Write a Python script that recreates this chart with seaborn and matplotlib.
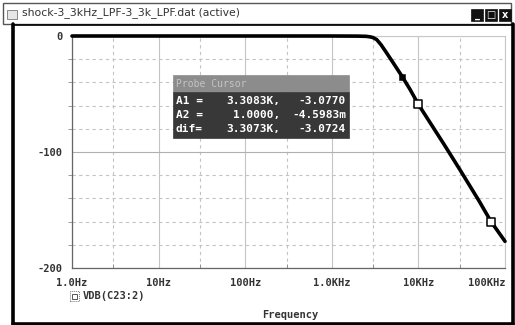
import matplotlib
matplotlib.use("Agg")
import matplotlib.pyplot as plt
import seaborn as sns
import pandas as pd
import numpy as np
from matplotlib.patches import Rectangle
from matplotlib.ticker import FixedLocator, NullFormatter

# ---- data ----
freq_hz = [1, 10, 100, 1000, 2000, 2500, 2800, 3000, 3300, 3700, 4200, 5000,
           6500, 8000, 10000, 20000, 30000, 50000, 69000, 100000]
vdb = [0, 0, 0, 0, -0.1, -0.3, -0.8, -1.4, -3.1, -7.5, -13.5, -22,
       -35, -46, -59, -94, -115, -142, -160, -177]

marker_filled_f = [6500]
marker_filled_db = [-35]
marker_open_f = [10000, 69000]
marker_open_db = [-59, -160]

x_tick_vals = [1, 10, 100, 1000, 10000, 100000]
x_tick_labels = ["1.0Hz", "10Hz", "100Hz", "1.0KHz", "10KHz", "100KHz"]
x_minor_vals = [3, 30, 300, 3000, 30000]
y_tick_vals = [0, -100, -200]
y_tick_labels = ["0", "-100", "-200"]
y_minor_vals = [-20, -40, -60, -80, -120, -140, -160, -180]

title_text = "shock-3_3kHz_LPF-3_3k_LPF.dat (active)"
trace_name = "VDB(C23:2)"
xlabel_text = "Frequency"
cursor_title = "Probe Cursor"
cursor_rows = [("A1 =", "3.3083K,", "-3.0770"),
               ("A2 =", "1.0000,", "-4.5983m"),
               ("dif=", "3.3073K,", "-3.0724")]

df = pd.DataFrame({"freq": freq_hz, "vdb": vdb})

sns.set_style("white")
plt.rcParams["font.family"] = ["DejaVu Sans Mono", "DejaVu Sans"]

W, H = 515, 325
fig = plt.figure(figsize=(W / 100, H / 100), dpi=100)
fig.patch.set_facecolor("white")

def fx(px):
    return px / W

def fy(py):
    return 1 - py / H

ax_l, ax_r, ax_t, ax_b = 72, 505, 36, 268
ax = fig.add_axes([fx(ax_l), fy(ax_b), fx(ax_r) - fx(ax_l), fy(ax_t) - fy(ax_b)])
ax.set_facecolor("white")

ax.set_xscale("log")
ax.set_xlim(1, 100000)
ax.set_ylim(-200, 0)

# grid
for v in x_tick_vals:
    ax.axvline(v, color="#c4c4c4", lw=0.8, zorder=0)
for v in x_minor_vals:
    ax.axvline(v, color="#c4c4c4", lw=0.8, ls=(0, (3, 3)), zorder=0)
for v in y_tick_vals:
    ax.axhline(v, color="#b0b0b0", lw=0.8, zorder=0)
for v in y_minor_vals:
    ax.axhline(v, color="#c4c4c4", lw=0.8, ls=(0, (3, 3)), zorder=0)

sns.lineplot(data=df, x="freq", y="vdb", ax=ax, color="black", lw=2.6,
             legend=False, zorder=3, clip_on=False)
sns.scatterplot(x=marker_filled_f, y=marker_filled_db, ax=ax, marker="s",
                s=22, color="black", edgecolor="black", zorder=4)
sns.scatterplot(x=marker_open_f, y=marker_open_db, ax=ax, marker="s",
                s=30, facecolor="white", edgecolor="black", linewidth=1.1,
                zorder=4)

for sp in ["top", "right"]:
    ax.spines[sp].set_visible(True)
    ax.spines[sp].set_color("#c8c8c8")
    ax.spines[sp].set_linewidth(0.8)
for sp in ["left", "bottom"]:
    ax.spines[sp].set_color("#666666")
    ax.spines[sp].set_linewidth(0.9)

ax.xaxis.set_major_locator(FixedLocator(x_tick_vals))
ax.xaxis.set_minor_locator(FixedLocator(x_minor_vals))
ax.xaxis.set_minor_formatter(NullFormatter())
ax.set_xticklabels(x_tick_labels)
ax.yaxis.set_major_locator(FixedLocator(y_tick_vals))
ax.yaxis.set_minor_locator(FixedLocator(y_minor_vals))
ax.set_yticklabels(y_tick_labels)
ax.tick_params(axis="both", which="major", length=4, width=0.8, color="#666666",
               labelsize=7.5, labelcolor="#333333", pad=3)
ax.tick_params(axis="y", which="minor", length=3, width=0.6, color="#888888", left=True)
ax.tick_params(axis="x", which="minor", length=3, width=0.6, color="#888888",
               bottom=True, direction="in")
ax.tick_params(axis="x", which="major", direction="out")
for lab in ax.get_xticklabels() + ax.get_yticklabels():
    lab.set_fontweight("bold")
last = ax.get_xticklabels()[-1]
last.set_horizontalalignment("right")
ax.set_xlabel("")
ax.set_ylabel("")

# ---- window chrome ----
# title bar
fig.patches.append(Rectangle((fx(3), fy(24)), fx(511) - fx(3), fy(3) - fy(24),
                             transform=fig.transFigure, facecolor="white",
                             edgecolor="#555555", lw=1.0, zorder=0))
fig.text(fx(22), fy(13), title_text, fontsize=7.8, color="#333333",
         family="DejaVu Sans", va="center", ha="left")
# title icon
fig.patches.append(Rectangle((fx(7), fy(19)), fx(10), 9 / H,
                             transform=fig.transFigure, facecolor="#e6e6e6",
                             edgecolor="#777777", lw=0.6))
# window buttons
for bx, glyph in [(471, "_"), (485, "□"), (499, "x")]:
    fig.patches.append(Rectangle((fx(bx), fy(21)), 12 / W, 12 / H,
                                 transform=fig.transFigure, facecolor="#111111",
                                 edgecolor="#111111", lw=0.5))
    fig.text(fx(bx + 6), fy(15), glyph, fontsize=7, color="white",
             fontweight="bold", ha="center", va="center", family="DejaVu Sans")
# thick window frame
fig.add_artist(plt.Line2D([fx(13), fx(13)], [fy(24), fy(324)], color="black",
                          lw=2.6, transform=fig.transFigure))
fig.add_artist(plt.Line2D([fx(512.5), fx(512.5)], [fy(24), fy(324)], color="black",
                          lw=2.6, transform=fig.transFigure))
fig.add_artist(plt.Line2D([fx(13), fx(512.5)], [fy(323.5), fy(323.5)], color="black",
                          lw=2.6, transform=fig.transFigure))
fig.add_artist(plt.Line2D([fx(13), fx(512.5)], [fy(24.5), fy(24.5)], color="black",
                          lw=1.2, transform=fig.transFigure))

# legend entry & x label
fig.patches.append(Rectangle((fx(70), fy(301)), 9 / W, 10 / H,
                             transform=fig.transFigure, facecolor="white",
                             edgecolor="#777777", lw=0.7, ls=(0, (1, 1))))
fig.patches.append(Rectangle((fx(72), fy(298.5)), 5 / W, 5 / H,
                             transform=fig.transFigure, facecolor="white",
                             edgecolor="#555555", lw=0.7))
fig.text(fx(83), fy(296), trace_name, fontsize=7.5, color="#333333",
         fontweight="bold", ha="left", va="center")
fig.text(fx(290), fy(315), xlabel_text, fontsize=7.5, color="#333333",
         fontweight="bold", ha="center", va="center")

# ---- probe cursor box ----
bl, br, bt, bm, bb = 173, 349, 75, 92, 138
fig.patches.append(Rectangle((fx(bl), fy(bm)), fx(br) - fx(bl), fy(bt) - fy(bm),
                             transform=fig.transFigure, facecolor="#8c8c8c",
                             edgecolor="#8c8c8c", lw=0.5, zorder=5))
fig.patches.append(Rectangle((fx(bl), fy(bb)), fx(br) - fx(bl), fy(bm) - fy(bb),
                             transform=fig.transFigure, facecolor="#383838",
                             edgecolor="#383838", lw=0.5, zorder=5))
fig.text(fx(176), fy(84), cursor_title, fontsize=7, color="#c4c4c4",
         ha="left", va="center", zorder=6)
for i, (a, b, c) in enumerate(cursor_rows):
    yy = fy(101 + 14 * i)
    fig.text(fx(176), yy, a, fontsize=8, color="white", fontweight="bold",
             ha="left", va="center", zorder=6)
    fig.text(fx(280), yy, b, fontsize=8, color="white", fontweight="bold",
             ha="right", va="center", zorder=6)
    fig.text(fx(346), yy, c, fontsize=8, color="white", fontweight="bold",
             ha="right", va="center", zorder=6)

fig.savefig("out.png", dpi=100)
